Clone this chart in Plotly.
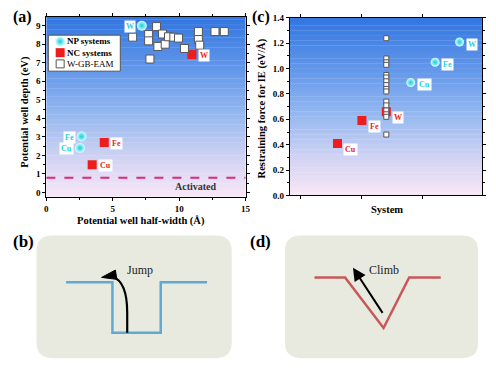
import plotly.graph_objects as go

# ---------------- data ----------------
# Panel (a): potential well half-width (Å) vs depth (eV)
np_labels = ["W", "Fe", "Cu"]
np_width = [7.19, 2.65, 2.53]
np_depth = [9.00, 3.02, 2.40]

nc_labels = ["W", "Fe", "Cu"]
nc_width = [10.96, 4.36, 3.45]
nc_depth = [7.44, 2.70, 1.49]

eam_width = [6.5, 7.7, 7.7, 7.8, 8.3, 8.4, 8.75, 8.95, 9.2, 9.6, 9.95, 10.4, 11.45, 11.45, 11.55, 12.7, 13.4]
eam_depth = [8.38, 8.52, 8.18, 7.20, 8.95, 7.88, 8.55, 8.00, 8.40, 8.38, 8.33, 7.77, 8.68, 8.25, 7.95, 8.68, 8.68]

activation_level = 0.79

# Panel (c): restraining force for IE (eV/Å) by system
np_sys = [3.6, 3.2, 2.8]
np_force = [1.21, 1.05, 0.89]
nc_sys = [2.4, 2.0, 1.6]
nc_force = [0.66, 0.59, 0.41]
eam_sys_pos = 2.4
eam_force = [1.24, 1.08, 1.05, 1.03, 0.95, 0.93, 0.90, 0.87, 0.84, 0.82, 0.74, 0.71, 0.67, 0.64, 0.62, 0.48]

# Schematic profiles (figure pixel units)
well_b_x = [65, 112, 112, 161, 161, 208]
well_b_y = [285, 285, 337, 337, 285, 285]
well_d_x = [317, 348, 387, 413, 445]
well_d_y = [280, 280, 332, 280, 280]

# ---------------- styles ----------------
W, H = 496, 369
SERIF = "Liberation Serif"
CYAN = "#19d3e0"
RED = "#ee1c1c"

fig = go.Figure()

def sphere(size):
    return dict(symbol="circle", size=size, color="#d8ffff",
                gradient=dict(type="radial", color="#10cde0"),
                line=dict(width=0))

# ---- panel (a) traces ----
fig.add_trace(go.Scatter(x=nc_width, y=nc_depth, mode="markers", xaxis="x", yaxis="y",
                         marker=dict(symbol="square", size=9, color=RED, line=dict(width=0)),
                         showlegend=False))
fig.add_trace(go.Scatter(x=eam_width, y=eam_depth, mode="markers", xaxis="x", yaxis="y",
                         marker=dict(symbol="square", size=8, color="white",
                                     line=dict(width=1, color="#555555")),
                         showlegend=False))
fig.add_trace(go.Scatter(x=np_width, y=np_depth, mode="markers", xaxis="x", yaxis="y",
                         marker=sphere(10), showlegend=False))

# ---- panel (c) traces ----
fig.add_trace(go.Scatter(x=nc_sys, y=nc_force, mode="markers", xaxis="x2", yaxis="y2",
                         marker=dict(symbol="square", size=9, color=RED, line=dict(width=0)),
                         showlegend=False))
fig.add_trace(go.Scatter(x=[eam_sys_pos] * len(eam_force), y=eam_force, mode="markers",
                         xaxis="x2", yaxis="y2",
                         marker=dict(symbol="square", size=5, color="white",
                                     line=dict(width=1, color="#555555")),
                         showlegend=False))
fig.add_trace(go.Scatter(x=np_sys, y=np_force, mode="markers", xaxis="x2", yaxis="y2",
                         marker=sphere(9), showlegend=False))

# ---- schematic wells on pixel overlay axes ----
fig.add_trace(go.Scatter(x=well_b_x, y=well_b_y, mode="lines", xaxis="x3", yaxis="y3",
                         line=dict(color="#5eaad2", width=2.5), showlegend=False, hoverinfo="skip"))
fig.add_trace(go.Scatter(x=well_d_x, y=well_d_y, mode="lines", xaxis="x3", yaxis="y3",
                         line=dict(color="#c85858", width=2.5), showlegend=False, hoverinfo="skip"))

# ---- manual legend symbols (pixel overlay) ----
fig.add_trace(go.Scatter(x=[59], y=[37.5], mode="markers", xaxis="x3", yaxis="y3",
                         marker=sphere(10), showlegend=False, hoverinfo="skip"))
fig.add_trace(go.Scatter(x=[59], y=[49], mode="markers", xaxis="x3", yaxis="y3",
                         marker=dict(symbol="square", size=9, color=RED), showlegend=False, hoverinfo="skip"))
fig.add_trace(go.Scatter(x=[59], y=[60.5], mode="markers", xaxis="x3", yaxis="y3",
                         marker=dict(symbol="square", size=8, color="white",
                                     line=dict(width=1, color="#555555")),
                         showlegend=False, hoverinfo="skip"))

shapes = []

# gradient backgrounds
stops = [(0.0, (248, 231, 246)), (0.2, (212, 212, 243)), (0.45, (150, 185, 240)),
         (0.7, (100, 152, 234)), (1.0, (50, 118, 224))]

def grad(t):
    for (t0, c0), (t1, c1) in zip(stops[:-1], stops[1:]):
        if t0 <= t <= t1:
            f = (t - t0) / (t1 - t0)
            return "rgb(%d,%d,%d)" % tuple(round(a + (b - a) * f) for a, b in zip(c0, c1))
    return "rgb(%d,%d,%d)" % stops[-1][1]

N = 70
for ax, ay in (("x", "y"), ("x2", "y2")):
    for i in range(N):
        t = (i + 0.5) / N
        shapes.append(dict(type="rect", xref=f"{ax} domain", yref=f"{ay} domain",
                           x0=0, x1=1, y0=i / N, y1=(i + 1) / N + 0.002,
                           fillcolor=grad(t), line=dict(width=0), layer="below"))

# activation dashed line
shapes.append(dict(type="line", xref="x domain", yref="y", x0=0, x1=1,
                   y0=activation_level, y1=activation_level,
                   line=dict(color="#e0267c", width=2, dash="dash")))

# legend box
shapes.append(dict(type="rect", xref="x3", yref="y3", x0=47, x1=120, y0=31, y1=68,
                   fillcolor="white", line=dict(color="#555555", width=1), layer="below"))

def rounded(x0, y0, x1, y1, r):
    return (f"M {x0+r},{y0} L {x1-r},{y0} Q {x1},{y0} {x1},{y0+r} L {x1},{y1-r} "
            f"Q {x1},{y1} {x1-r},{y1} L {x0+r},{y1} Q {x0},{y1} {x0},{y1-r} "
            f"L {x0},{y0+r} Q {x0},{y0} {x0+r},{y0} Z")

for (bx0, bx1) in ((35, 233), (287, 483)):
    shapes.append(dict(type="path", xref="x3", yref="y3", path=rounded(bx0, 237, bx1, 363, 16),
                       fillcolor="#e9eadf", line=dict(width=0), layer="below"))

# jump arrow curve + head
shapes.append(dict(type="path", xref="x3", yref="y3",
                   path="M 127,337 L 127,316 C 127,296 123,283 112,279",
                   line=dict(color="black", width=2.2)))
shapes.append(dict(type="path", xref="x3", yref="y3",
                   path="M 101,280 L 115,272.5 L 116.5,282 Z",
                   fillcolor="black", line=dict(color="black", width=1)))

annotations = []

def txt(x, y, s, size, color="black", bold=True, ref=("x3", "y3"), **kw):
    annotations.append(dict(x=x, y=y, xref=ref[0], yref=ref[1], text=s, showarrow=False,
                            font=dict(family=SERIF, size=size, color=color,
                                      weight=700 if bold else 400), **kw))

# panel letters
txt(21, 12, "(a)", 16)
txt(263, 12, "(c)", 16)
txt(22, 243, "(b)", 17)
txt(262, 243, "(d)", 17)

# axis titles
txt(141, 222, "Potential well half-width (Å)", 10.5)
txt(23, 110, "Potential well depth (eV)", 10.5, textangle=-90)
txt(390, 210, "System", 10.5)
txt(264, 106, "Restraining force for IE (eV/Å)", 10.5, textangle=-90)

# legend text
txt(64, 37.5, "NP systems", 9, xanchor="left")
txt(64, 49, "NC systems", 9, xanchor="left")
txt(64, 60.5, "W-GB-EAM", 9, bold=False, xanchor="left")

# activated label
annotations.append(dict(x=0.868, y=activation_level, xref="x domain", yref="y", text="Activated",
                        showarrow=False, xanchor="right", yanchor="top", yshift=-1,
                        font=dict(family=SERIF, size=10, color="#333333", weight=700)))

def point_label(x, y, s, color, axes, xshift, yshift, anchor):
    annotations.append(dict(x=x, y=y, xref=axes[0], yref=axes[1], text=s, showarrow=False,
                            xshift=xshift, yshift=yshift, xanchor=anchor, bgcolor="white",
                            borderpad=1,
                            font=dict(family=SERIF, size=8, color=color, weight=700)))

for lab, x, y in zip(np_labels, np_width, np_depth):
    point_label(x, y, lab, CYAN, ("x", "y"), -6, -1, "right")
for lab, x, y in zip(nc_labels, nc_width, nc_depth):
    point_label(x, y, lab, RED, ("x", "y"), 6, -1, "left")
for lab, x, y in zip(np_labels, np_sys, np_force):
    point_label(x, y, lab, CYAN, ("x2", "y2"), 6, -2, "left")
for lab, x, y in zip(nc_labels, nc_sys, nc_force):
    point_label(x, y, lab, RED, ("x2", "y2"), 6, -6, "left")

# schematic texts and climb arrow
txt(140, 272, "Jump", 12, color="#222222", bold=False)
txt(387, 272, "Climb", 12, color="#222222", bold=False)
annotations.append(dict(x=356, y=270, ax=387, ay=318, xref="x3", yref="y3", axref="x3", ayref="y3",
                        text="", showarrow=True, arrowhead=2, arrowsize=1.3, arrowwidth=2,
                        arrowcolor="black", standoff=0, startstandoff=0))

axis_common = dict(showline=True, linecolor="black", linewidth=1.2, mirror="ticks",
                   ticks="outside", ticklen=3, tickwidth=1, tickcolor="black",
                   showgrid=False, zeroline=False,
                   tickfont=dict(family=SERIF, size=9, color="black", weight=700))

fig.update_layout(
    width=W, height=H, autosize=False,
    margin=dict(l=0, r=0, t=0, b=0),
    paper_bgcolor="white", plot_bgcolor="rgba(0,0,0,0)",
    showlegend=False,
    xaxis=dict(domain=[45 / W, 247 / W], range=[0, 15], anchor="y",
               tickvals=[0, 5, 10, 15], minor=dict(dtick=2.5, ticklen=2, ticks="outside"),
               **axis_common),
    yaxis=dict(domain=[1 - 197 / H, 1 - 12.3 / H], range=[-0.23, 9.47], anchor="x",
               dtick=1, minor=dict(dtick=0.5, ticklen=2, ticks="outside"), **axis_common),
    xaxis2=dict(domain=[292 / W, 487 / W], range=[0.82, 3.97], anchor="y2",
                tickvals=[1, 2, 3], showticklabels=False, **axis_common),
    yaxis2=dict(domain=[1 - 195.7 / H, 1 - 13.3 / H], range=[0, 1.4], anchor="x2",
                dtick=0.2, tickformat=".1f", minor=dict(dtick=0.1, ticklen=2, ticks="outside"),
                **axis_common),
    xaxis3=dict(domain=[0, 1], range=[0, W], visible=False, anchor="y3", fixedrange=True),
    yaxis3=dict(domain=[0, 1], range=[H, 0], visible=False, anchor="x3", fixedrange=True),
    shapes=shapes,
    annotations=annotations,
)

fig.write_html("out.html", config={"displayModeBar": False},
               post_script="document.body.style.margin='0';document.body.style.overflow='hidden';")
